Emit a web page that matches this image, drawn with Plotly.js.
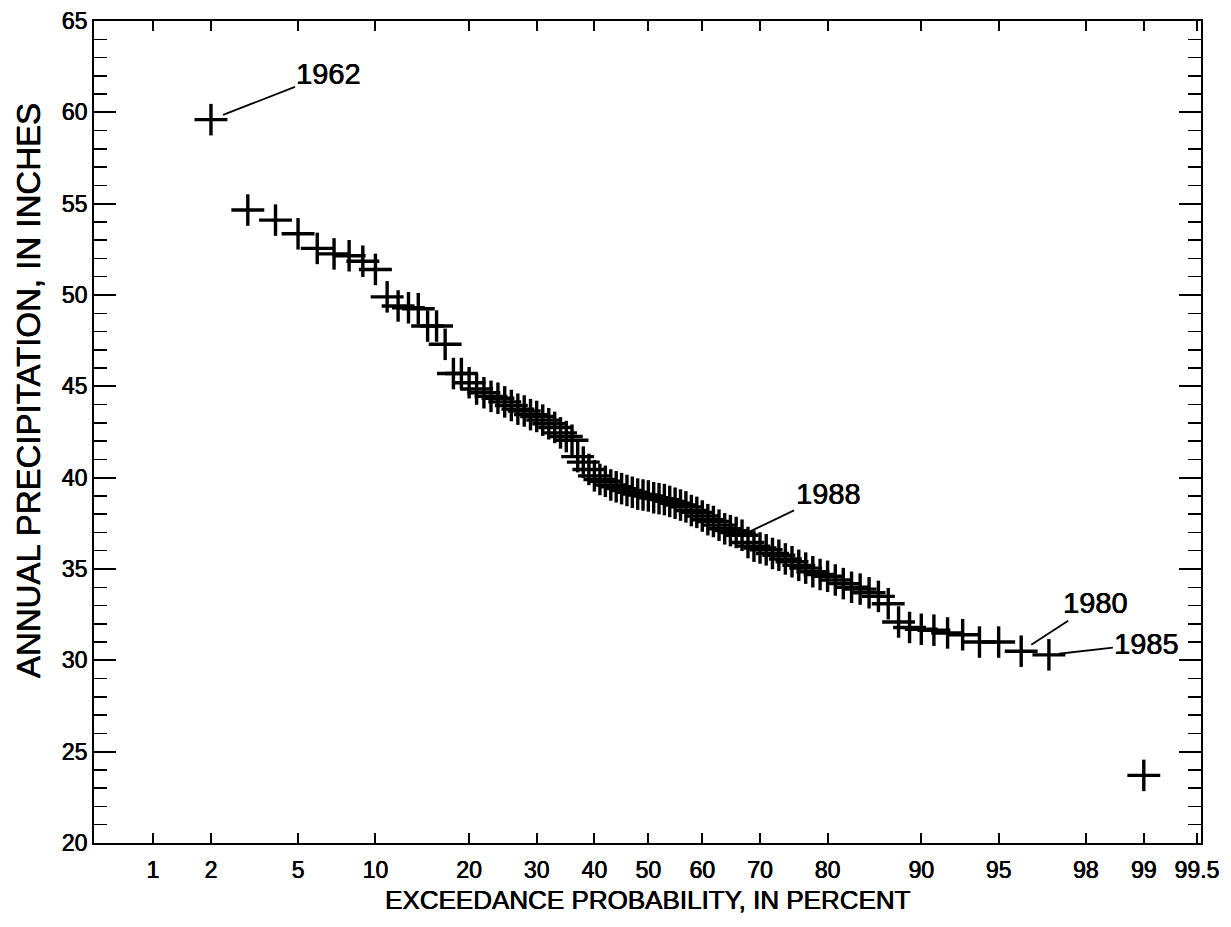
<!DOCTYPE html>
<html>
<head>
<meta charset="utf-8">
<script src="https://cdn.plot.ly/plotly-3.0.1.min.js"></script>
<style>
  html, body { margin: 0; padding: 0; background: #ffffff; }
  #chart { width: 1231px; height: 927px; }
</style>
</head>
<body>
<div id="chart"></div>
<script>
// ---- data ----
const exceedancePercent = [
  2, 3, 4, 5, 6, 7, 8, 9, 10, 11, 12, 13, 14, 15, 16, 17, 18, 19, 20,
  21, 22, 23, 24, 25, 26, 27, 28, 29, 30, 31, 32, 33, 34, 35, 36, 37, 38, 39, 40,
  41, 42, 43, 44, 45, 46, 47, 48, 49, 50, 51, 52, 53, 54, 55, 56, 57, 58, 59, 60,
  61, 62, 63, 64, 65, 66, 67, 68, 69, 70, 71, 72, 73, 74, 75, 76, 77, 78, 79, 80,
  81, 82, 83, 84, 85, 86, 87, 88, 89, 90, 91, 92, 93, 94, 95, 96, 97, 99
];
const annualPrecipInches = [
  59.6, 54.65, 54.1, 53.35, 52.55, 52.25, 52.15, 51.85, 51.4, 49.9, 49.4, 49.3, 49.25, 48.3, 48.3, 47.3, 45.7, 45.7, 45.2,
  44.85, 44.65, 44.45, 44.35, 44.15, 43.95, 43.75, 43.65, 43.45, 43.35, 43.15, 42.95, 42.75, 42.45, 42.25, 42.05, 41.15, 40.85, 40.45, 40.1,
  39.9, 39.8, 39.6, 39.5, 39.4, 39.3, 39.2, 39.1, 39.05, 39.0, 38.9, 38.85, 38.8, 38.7, 38.6, 38.5, 38.4, 38.2, 38.1, 37.9,
  37.7, 37.6, 37.4, 37.2, 37.1, 37.0, 36.85, 36.45, 36.25, 36.15, 36.05, 35.85, 35.75, 35.55, 35.4, 35.2, 35.05, 34.85, 34.7, 34.6,
  34.4, 34.2, 34.0, 33.9, 33.7, 33.5, 33.1, 32.1, 31.8, 31.7, 31.65, 31.5, 31.4, 31.0, 31.0, 30.5, 30.3, 23.7
];
const tickPercents = [1, 2, 5, 10, 20, 30, 40, 50, 60, 70, 80, 90, 95, 98, 99, 99.5];
const tickLabels = ['1', '2', '5', '10', '20', '30', '40', '50', '60', '70', '80', '90', '95', '98', '99', '99.5'];
const labeledYears = ['1962', '1988', '1980', '1985'];
const labeledPercents = [2, 67, 96, 97];
const xTitle = 'EXCEEDANCE PROBABILITY, IN PERCENT';
const yTitle = 'ANNUAL PRECIPITATION, IN INCHES';

// ---- normal-probability scale (inverse standard normal CDF) ----
function normInv(p) {
  const a = [-3.969683028665376e+01, 2.209460984245205e+02, -2.759285104469687e+02, 1.383577518672690e+02, -3.066479806614716e+01, 2.506628277459239e+00];
  const b = [-5.447609879822406e+01, 1.615858368580409e+02, -1.556989798598866e+02, 6.680131188771972e+01, -1.328068155288572e+01];
  const c = [-7.784894002430293e-03, -3.223964580411365e-01, -2.400758277161838e+00, -2.549732539343734e+00, 4.374664141464968e+00, 2.938163982698783e+00];
  const d = [7.784695709041462e-03, 3.224671290700398e-01, 2.445134137142996e+00, 3.754408661907416e+00];
  const pl = 0.02425, ph = 1 - pl;
  let q, r;
  if (p < pl) {
    q = Math.sqrt(-2 * Math.log(p));
    return (((((c[0]*q+c[1])*q+c[2])*q+c[3])*q+c[4])*q+c[5]) / ((((d[0]*q+d[1])*q+d[2])*q+d[3])*q+1);
  }
  if (p > ph) {
    q = Math.sqrt(-2 * Math.log(1 - p));
    return -(((((c[0]*q+c[1])*q+c[2])*q+c[3])*q+c[4])*q+c[5]) / ((((d[0]*q+d[1])*q+d[2])*q+d[3])*q+1);
  }
  q = p - 0.5; r = q * q;
  return (((((a[0]*r+a[1])*r+a[2])*r+a[3])*r+a[4])*r+a[5])*q / (((((b[0]*r+b[1])*r+b[2])*r+b[3])*r+b[4])*r+1);
}
const toZ = pc => normInv(pc / 100);

const xz = exceedancePercent.map(toZ);
const FONT = 'Liberation Sans, Arial, Helvetica, sans-serif';
const HEAVY = '0.45px 0 0 #000, -0.2px 0 0 #000';
const txt = size => ({ family: FONT, size: size, color: '#000', shadow: HEAVY });

const markerLine = { color: '#000', width: 3.4 };
const traces = [
  { type: 'scatter', mode: 'markers', x: xz, y: annualPrecipInches, hoverinfo: 'skip', showlegend: false,
    marker: { symbol: 'line-ew', size: 23.5, color: '#000', line: markerLine } },
  { type: 'scatter', mode: 'markers', x: xz, y: annualPrecipInches, hoverinfo: 'skip', showlegend: false,
    marker: { symbol: 'line-ns', size: 22.5, color: '#000', line: markerLine } }
];

const labelOffsets = [[118, -46], [86, -41], [74, -48], [98, -11]];
const labelStandoff = [13, 9, 12, 10];
const annotations = labeledYears.map((yr, i) => {
  const idx = exceedancePercent.indexOf(labeledPercents[i]);
  return {
    x: toZ(labeledPercents[i]), y: annualPrecipInches[idx], xref: 'x', yref: 'y',
    text: yr, showarrow: true, arrowhead: 0, arrowwidth: 1.8, arrowcolor: '#000',
    ax: labelOffsets[i][0], ay: labelOffsets[i][1], standoff: labelStandoff[i],
    font: txt(29)
  };
});
// axis titles placed as in the reference
annotations.push({
  text: xTitle, xref: 'paper', yref: 'paper', x: 0.5, y: -0.049, yanchor: 'top', xanchor: 'center',
  showarrow: false, font: txt(26)
});
annotations.push({
  text: yTitle, xref: 'paper', yref: 'paper', x: -0.0585, y: 0.55, xanchor: 'center', yanchor: 'middle',
  textangle: -90, showarrow: false, font: txt(33)
});

const layout = {
  width: 1231, height: 927,
  margin: { l: 94, r: 30, t: 21, b: 84, pad: 0 },
  paper_bgcolor: '#fff', plot_bgcolor: '#fff',
  font: { family: FONT, color: '#000' },
  showlegend: false,
  xaxis: {
    range: [-2.603, 2.595], autorange: false,
    tickmode: 'array', tickvals: tickPercents.map(toZ), ticktext: tickLabels,
    ticks: 'inside', ticklen: 10, tickwidth: 2, tickcolor: '#000',
    showline: true, linewidth: 2, linecolor: '#000', mirror: 'ticks',
    showgrid: false, zeroline: false,
    ticklabelstandoff: 5,
    tickfont: txt(23)
  },
  yaxis: {
    range: [20, 65], autorange: false,
    tick0: 20, dtick: 5,
    ticks: 'inside', ticklen: 22, tickwidth: 2, tickcolor: '#000',
    minor: { dtick: 1, ticks: 'inside', ticklen: 13, tickwidth: 1.5, tickcolor: '#000', showgrid: false },
    showline: true, linewidth: 2, linecolor: '#000', mirror: 'ticks',
    showgrid: false, zeroline: false,
    ticklabelstandoff: 0,
    tickfont: txt(23)
  },
  annotations: annotations
};

Plotly.newPlot('chart', traces, layout, { staticPlot: true, displayModeBar: false });
</script>
</body>
</html>
